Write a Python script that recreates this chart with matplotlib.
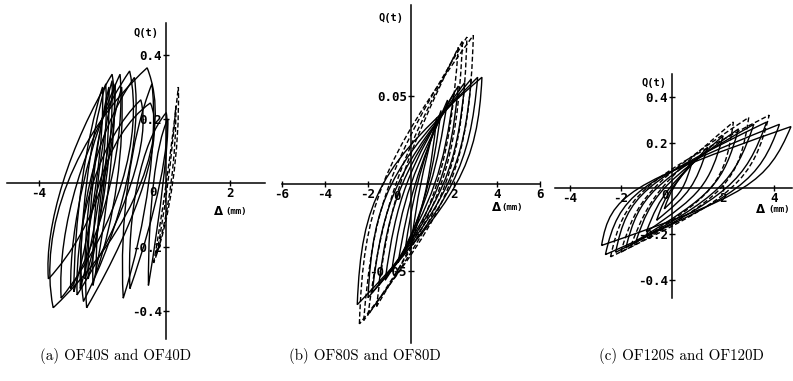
import numpy as np
import matplotlib
matplotlib.use("Agg")
import matplotlib.pyplot as plt
from matplotlib.path import Path
from matplotlib.patches import PathPatch

plt.rcParams['axes.unicode_minus'] = False

# ---- data: each loop = negative tip (d, Q), positive tip (d, Q),
#      zero crossing of upper branch, zero crossing of lower branch
# (a) OF40S / OF40D
a_neg_d = [-3.70, -3.55, -3.30, -3.00, -2.80, -2.50, -2.45, -2.30, -2.20, -2.60, -2.70, -2.55, -2.90,
           -1.35, -1.14, -0.56, -0.40, -0.30]
a_neg_q = [-0.30, -0.39, -0.36, -0.33, -0.35, -0.39, -0.30, -0.32, -0.28, -0.37, -0.33, -0.30, -0.34,
           -0.36, -0.33, -0.32, -0.25, -0.22]
a_pos_d = [-1.70, -0.60, -1.15, -1.45, -0.80, -0.50, -1.80, -1.60, -1.40, -1.00, -1.90, -1.70, -2.00,
           -0.45, 0.00, 0.05, 0.38, 0.30]
a_pos_q = [0.34, 0.36, 0.35, 0.34, 0.26, 0.25, 0.30, 0.31, 0.30, 0.33, 0.31, 0.32, 0.30,
           0.31, 0.22, 0.20, 0.30, 0.24]
a_up0 = [-3.25, -3.10, -2.80, -2.60, -2.30, -2.10, -2.30, -2.15, -2.00, -2.40, -2.50, -2.35, -2.65,
         -1.20, -0.90, -0.40, 0.00, 0.05]
a_lo0 = [-2.00, -0.80, -1.40, -1.75, -1.10, -0.70, -1.95, -1.80, -1.55, -1.25, -2.05, -1.90, -2.20,
         -0.55, -0.20, -0.10, 0.20, 0.15]
a_dash = [0, 0, 0, 0, 0, 0, 0, 0, 0, 0, 0, 0, 0, 0, 0, 0, 1, 1]

# (b) OF80S / OF80D
b_neg_d = [-2.50, -2.00, -1.80, -1.50, -1.20, -0.90, -0.60, -0.30, 0.00, -2.40, -2.20, -2.00, -1.60]
b_neg_q = [-0.069, -0.065, -0.062, -0.058, -0.055, -0.050, -0.045, -0.040, -0.035, -0.080, -0.078, -0.075, -0.070]
b_pos_d = [3.30, 3.10, 2.80, 2.50, 2.20, 2.00, 1.70, 1.40, 1.20, 2.90, 2.60, 2.40, 2.20]
b_pos_q = [0.061, 0.061, 0.060, 0.058, 0.056, 0.052, 0.048, 0.042, 0.038, 0.085, 0.084, 0.082, 0.078]
b_up0 = [-1.30, -0.90, -0.60, -0.40, -0.20, 0.00, 0.20, 0.30, 0.45, -1.30, -1.00, -0.70, -0.50]
b_lo0 = [2.10, 1.90, 1.70, 1.50, 1.30, 1.10, 0.90, 0.80, 0.75, 1.80, 1.60, 1.40, 1.20]
b_dash = [0, 0, 0, 0, 0, 0, 0, 0, 0, 1, 1, 1, 1]

# (c) OF120S / OF120D
c_neg_d = [-2.75, -2.60, -2.20, -1.80, -1.40, -1.00, -0.60, -0.30, -2.40, -2.00, -1.60]
c_neg_q = [-0.25, -0.29, -0.28, -0.26, -0.23, -0.19, -0.14, -0.09, -0.30, -0.28, -0.25]
c_pos_d = [4.65, 4.20, 3.70, 3.20, 2.60, 2.00, 1.40, 0.80, 3.80, 3.00, 2.40]
c_pos_q = [0.27, 0.28, 0.29, 0.28, 0.26, 0.23, 0.18, 0.12, 0.32, 0.31, 0.29]
c_up0 = [-1.30, -1.10, -0.90, -0.60, -0.30, -0.10, 0.00, 0.05, -1.00, -0.70, -0.40]
c_lo0 = [2.75, 2.50, 2.10, 1.80, 1.50, 1.10, 0.70, 0.40, 2.30, 1.90, 1.50]
c_dash = [0, 0, 0, 0, 0, 0, 0, 0, 1, 1, 1]

captions = ["(a) OF40S and OF40D", "(b) OF80S and OF80D", "(c) OF120S and OF120D"]

W, H = 793, 381
fig = plt.figure(figsize=(W / 100, H / 100), dpi=100)

MONO = 'DejaVu Sans Mono'


def px_axes(x0, x1, y0, y1):
    # pixel box (top-left origin) -> figure axes
    return fig.add_axes([x0 / W, 1 - y1 / H, (x1 - x0) / W, (y1 - y0) / H])


def loop(ax, xn, qn, xp, qp, xu, xl, dashed, f):
    A = np.array([xn, qn])
    B = np.array([xp, qp])
    verts = [A]
    for P0, P3, xm in ((A, B, xu), (B, A, xl)):
        S = (8 * np.array([xm, 0.0]) - P0 - P3) / 3
        v = f * (P3 - P0) / 2
        verts += [S / 2 - v, S / 2 + v, P3]
    codes = [Path.MOVETO] + [Path.CURVE4] * 6
    ax.add_patch(PathPatch(Path(verts, codes), fill=False, lw=1.0, ec='black',
                           ls=(0, (3.5, 1.8)) if dashed else '-', zorder=3))


def setup(ax, xlim, ylim, xt, yt, xtl, ytl):
    ax.set_xlim(*xlim)
    ax.set_ylim(*ylim)
    for s in ('top', 'right'):
        ax.spines[s].set_visible(False)
    ax.spines['left'].set_position(('data', 0))
    ax.spines['bottom'].set_position(('data', 0))
    for s in ('left', 'bottom'):
        ax.spines[s].set_linewidth(1.1)
        ax.spines[s].set_zorder(2)
    ax.patch.set_alpha(0)
    ax.set_xticks(xt)
    ax.set_xticklabels(xtl)
    ax.set_yticks(yt)
    ax.set_yticklabels(ytl)
    ax.tick_params(direction='inout', length=5, width=1, pad=0.5)
    for lab in ax.get_xticklabels() + ax.get_yticklabels():
        lab.set_fontfamily(MONO)
        lab.set_fontweight('bold')
        lab.set_fontsize(9)


def draw(ax, nd, nq, pd, pq, u0, l0, dash, f):
    for i in range(len(nd)):
        loop(ax, nd[i], nq[i], pd[i], pq[i], u0[i], l0[i], dash[i], f)


def labels(ax, qpos, dpos, zpos, spaced):
    ax.text(*qpos, 'Q(t)', ha='right', va='center', family=MONO, weight='bold', fontsize=7.5)
    ax.text(*dpos, 'Δ', ha='left', va='center', family='DejaVu Sans', weight='bold', fontsize=8.5)
    ax.annotate('(mm)', xy=dpos, xytext=(8.5 if spaced else 6.5, 0), textcoords='offset points',
                ha='left', va='center', family=MONO, weight='bold', fontsize=6.5)
    ax.text(*zpos, '0', ha='center', va='center', family=MONO, weight='bold', fontsize=9)


# (a)
axa = px_axes(7, 265, 23, 339)
setup(axa, (-5.0, 3.1), (-0.4875, 0.5), [-4, -2, 2], [-0.4, -0.2, 0.2, 0.4],
      ['-4', '', '2'], ['-0.4', '-0.2', '0.2', '0.4'])
draw(axa, a_neg_d, a_neg_q, a_pos_d, a_pos_q, a_up0, a_lo0, a_dash, 0.4)
labels(axa, (-0.25, 0.47), (1.5, -0.088), (-0.41, -0.03), True)

# (b)
axb = px_axes(282, 540, 5, 343)
setup(axb, (-6, 6), (-0.0909, 0.1023), [-6, -4, -2, 2, 4, 6], [-0.05, 0.05],
      ['-6', '-4', '-2', '2', '4', '6'], ['-0.05', '0.05'])
draw(axb, b_neg_d, b_neg_q, b_pos_d, b_pos_q, b_up0, b_lo0, b_dash, 0.15)
labels(axb, (-0.37, 0.095), (3.77, -0.0135), (-0.67, -0.0074), False)

# (c)
axc = px_axes(555, 792, 74, 298)
setup(axc, (-4.57, 4.69), (-0.48, 0.5), [-4, -2, 2, 4], [-0.4, -0.2, 0.2, 0.4],
      ['-4', '-2', '2', '4'], ['-0.4', '-0.2', '0.2', '0.4'])
draw(axc, c_neg_d, c_neg_q, c_pos_d, c_pos_q, c_up0, c_lo0, c_dash, 0.1)
labels(axc, (-0.2, 0.46), (3.3, -0.092), (-0.27, -0.03), True)

for cx, cap in zip([116, 365, 681], captions):
    fig.text(cx / W, 1 - 356 / H, cap, ha='center', va='center', family='cmr10', fontsize=10.8)

fig.savefig('out.png', dpi=100)
